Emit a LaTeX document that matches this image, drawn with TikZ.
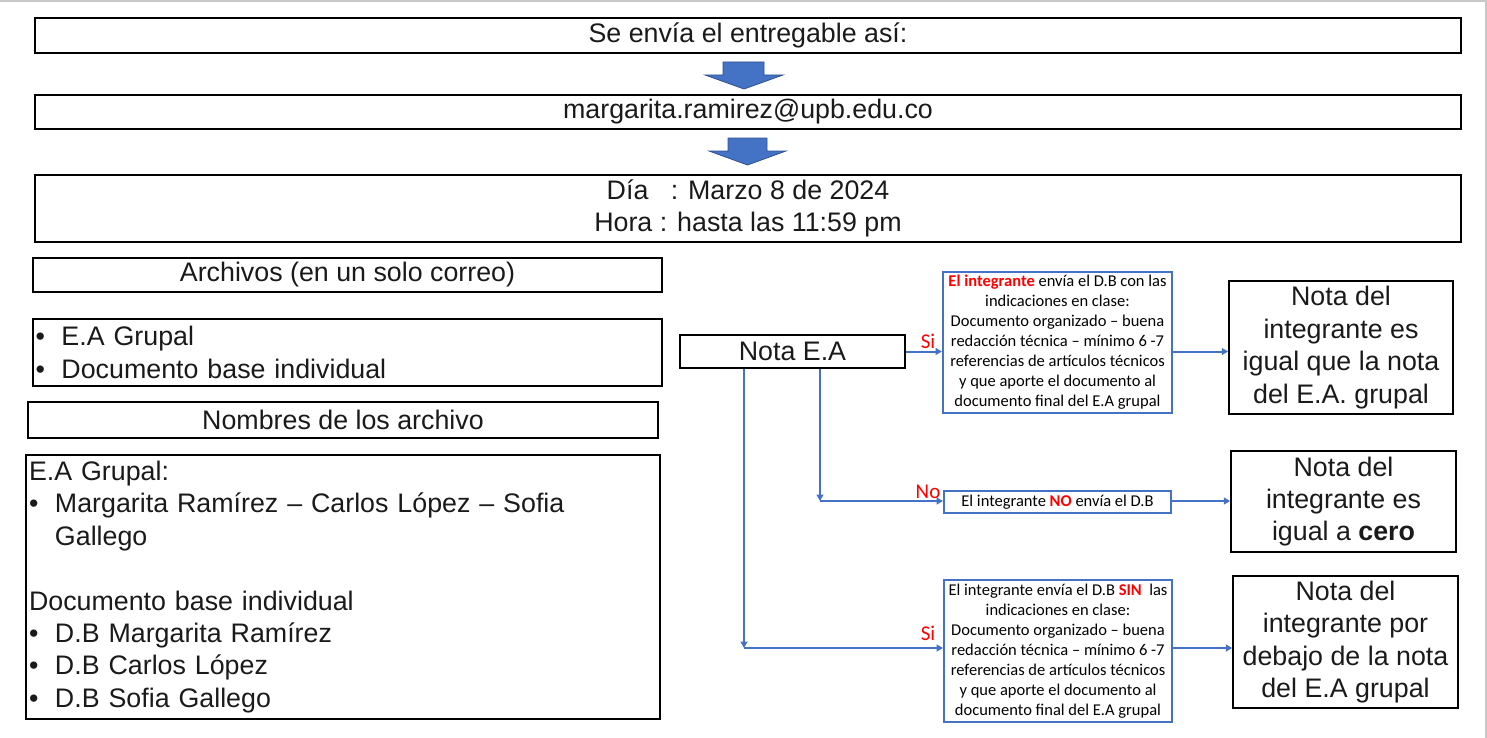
\documentclass[tikz,border=0pt]{standalone}
\usepackage{fontspec}
\setmainfont{Liberation Sans}
\newfontfamily\calib{Carlito}
\usetikzlibrary{arrows.meta,calc}
\definecolor{ofblue}{HTML}{4472C4}
\definecolor{ofdark}{HTML}{2F528F}
\definecolor{txt}{HTML}{1A1A1A}
\definecolor{redt}{HTML}{FF0000}
\definecolor{edgegray}{HTML}{C8C8C8}
\newcommand\bulA{\makebox[13pt][l]{•}}
\tikzset{
  box/.style={draw=black, line width=0.8pt, inner sep=0pt, align=center, text=txt,
    font=\fontsize{13.4}{16.2}\selectfont},
  bluebox/.style={draw=ofblue, line width=1pt, inner sep=0pt, align=center, text=black,
    font=\calib\fontsize{8.25}{10}\selectfont},
  conn/.style={draw=ofblue, line width=1pt, -{Triangle[length=3.2pt,width=3.4pt]}},
  lab/.style={text=redt, font=\calib\fontsize{10.5}{12}\selectfont, inner sep=0pt},
  blockarrow/.style={fill=ofblue, draw=ofdark, line width=0.4pt},
}
\begin{document}
\begin{tikzpicture}[x=0.5pt,y=-0.5pt]
\useasboundingbox (0,0) rectangle (1487,738);
\draw[edgegray, line width=1pt] (0,1) -- (1486,1) -- (1486,738);

% top boxes
\node[box, minimum width=713pt, minimum height=17.5pt] (top1) at (748,35.5) {Se envía el entregable así:};
\node[box, minimum width=713pt, minimum height=17pt] (top2) at (748,112) {margarita.ramirez@upb.edu.co};
\node[box, minimum width=713pt, minimum height=33.5pt] (top3) at (748,208.5)
  {Día~~~: Marzo 8 de 2024\\Hora : hasta las 11:59 pm};

% block arrows
\filldraw[blockarrow] (723,62) -- (764,62) -- (764,75) -- (783,75) -- (744,89) -- (705,75) -- (723,75) -- cycle;
\filldraw[blockarrow] (728,138) -- (767,138) -- (767,151) -- (786,151) -- (747.5,165) -- (709,151) -- (728,151) -- cycle;

% left boxes
\node[box, minimum width=314.5pt, minimum height=17pt] (arch) at (347.5,275) {Archivos (en un solo correo)};
\node[box, minimum height=33.5pt, inner xsep=1.2pt, text width=312pt, align=left] (lista) at (347.5,352.5)
  {\bulA E.A Grupal\\\bulA Documento base individual};
\node[box, minimum width=315pt, minimum height=18pt] (nomb) at (343,420) {Nombres de los archivo};
\node[box, minimum height=132pt, inner xsep=1.5pt, text width=314pt, align=left] (big) at (343,587)
  {E.A Grupal:\\
   \bulA Margarita Ramírez – Carlos López – Sofia\\
   \hspace*{13pt}Gallego\\[16.2pt]
   Documento base individual\\
   \bulA D.B Margarita Ramírez\\
   \bulA D.B Carlos López\\
   \bulA D.B Sofia Gallego};

% right side
\node[box, minimum width=112.5pt, minimum height=16.5pt] (nota) at (792.5,351.5) {Nota E.A};

\node[bluebox, minimum width=114.5pt, minimum height=70.5pt] (b1) at (1057.5,342.5)
  {{\color{redt}\bfseries El integrante} envía el D.B con las\\indicaciones en clase:\\Documento organizado – buena\\redacción técnica – mínimo 6 -7\\referencias de artículos técnicos\\y que aporte el documento al\\documento final del E.A grupal};
\node[bluebox, minimum width=113.5pt, minimum height=11pt] (b2) at (1057.5,502)
  {El integrante {\color{redt}\bfseries NO} envía el D.B};
\node[bluebox, minimum width=114pt, minimum height=71pt] (b3) at (1058,651)
  {El integrante envía el D.B {\color{redt}\bfseries SIN}~ las\\indicaciones en clase:\\Documento organizado – buena\\redacción técnica – mínimo 6 -7\\referencias de artículos técnicos\\y que aporte el documento al\\documento final del E.A grupal};

\node[box, minimum width=112pt, minimum height=66.5pt] (r1) at (1341,347.5)
  {Nota del\\integrante es\\igual que la nota\\del E.A. grupal};
\node[box, minimum width=112.5pt, minimum height=50.5pt] (r2) at (1343.5,501.5)
  {Nota del\\integrante es\\igual a \textbf{cero}};
\node[box, minimum width=112.5pt, minimum height=66pt] (r3) at (1345.5,642)
  {Nota del\\integrante por\\debajo de la nota\\del E.A grupal};

% connectors
\draw[conn] (nota.east) -- (nota.east -| b1.west);
\node[lab] (si1) at (928,341) {Si};
\draw[conn] (b1.east |- nota.east) -- (r1.west |- nota.east);

\coordinate (c1) at (820,501);
\draw[conn] (nota.south -| c1) -- (c1);
\draw[conn] (c1) -- (c1 -| b2.west);
\node[lab] (no1) at (928,492) {No};
\draw[conn] (b2.east |- c1) -- (r2.west |- c1);

\coordinate (c2) at (744,648);
\draw[conn] (nota.south -| c2) -- (c2);
\draw[conn] (c2) -- (c2 -| b3.west);
\node[lab] (si2) at (928,633) {Si};
\draw[conn] (b3.east |- c2) -- (r3.west |- c2);
\end{tikzpicture}
\end{document}
